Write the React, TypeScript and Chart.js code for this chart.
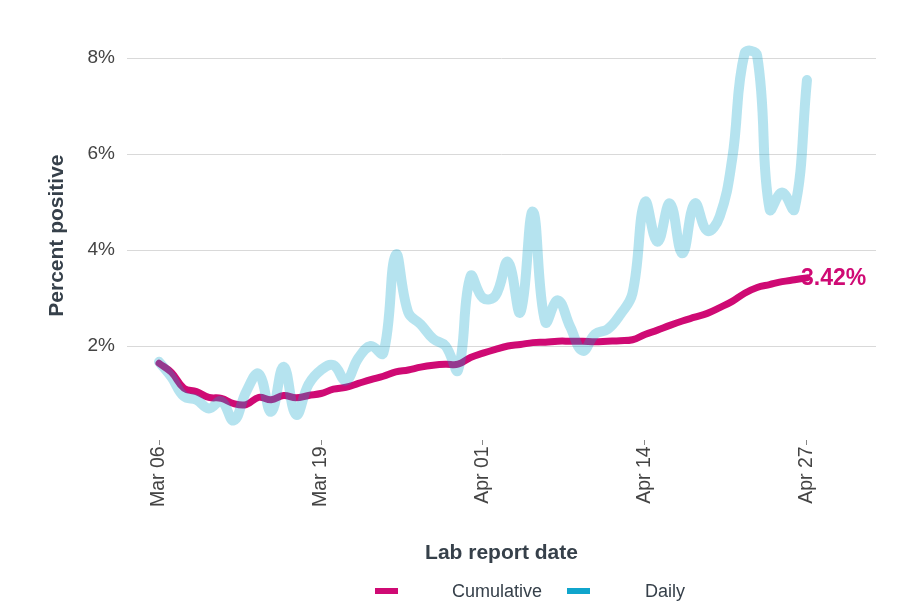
import { useEffect, useRef } from "react";
import { Chart, registerables } from "chart.js";

Chart.register(...registerables);

const dates = [
  "Mar 06", "Mar 07", "Mar 08", "Mar 09", "Mar 10", "Mar 11", "Mar 12", "Mar 13", "Mar 14", "Mar 15",
  "Mar 16", "Mar 17", "Mar 18", "Mar 19", "Mar 20", "Mar 21", "Mar 22", "Mar 23", "Mar 24", "Mar 25",
  "Mar 26", "Mar 27", "Mar 28", "Mar 29", "Mar 30", "Mar 31", "Apr 01", "Apr 02", "Apr 03", "Apr 04",
  "Apr 05", "Apr 06", "Apr 07", "Apr 08", "Apr 09", "Apr 10", "Apr 11", "Apr 12", "Apr 13", "Apr 14",
  "Apr 15", "Apr 16", "Apr 17", "Apr 18", "Apr 19", "Apr 20", "Apr 21", "Apr 22", "Apr 23", "Apr 24",
  "Apr 25", "Apr 26", "Apr 27",
];

const cumulative = [
  1.64, 1.45, 1.12, 1.05, 0.93, 0.91, 0.8, 0.78, 0.93, 0.88,
  0.97, 0.92, 0.97, 1.01, 1.1, 1.14, 1.22, 1.3, 1.37, 1.46,
  1.5, 1.56, 1.6, 1.62, 1.62, 1.76, 1.85, 1.93, 2.0, 2.03,
  2.07, 2.08, 2.1, 2.1, 2.1, 2.09, 2.1, 2.11, 2.13, 2.24,
  2.33, 2.43, 2.52, 2.6, 2.68, 2.8, 2.93, 3.1, 3.22, 3.28,
  3.34, 3.38, 3.42,
];

const daily = [
  1.67, 1.35, 0.95, 0.88, 0.7, 0.85, 0.45, 1.05, 1.42, 0.63,
  1.57, 0.57, 1.2, 1.5, 1.6, 1.28, 1.75, 2.0, 1.85, 3.9,
  2.7, 2.45, 2.15, 2.0, 1.5, 3.45, 3.0, 3.05, 3.75, 2.7,
  4.8, 2.5, 2.95, 2.4, 1.9, 2.25, 2.35, 2.65, 3.1, 5.0,
  4.17, 4.97, 3.93, 4.97, 4.4, 4.7, 5.9, 8.1, 8.05, 4.85,
  5.2, 4.85, 7.54,
];

const xTickLabels = ["Mar 06", "Mar 19", "Apr 01", "Apr 14", "Apr 27"];
const yTickValues = [2, 4, 6, 8];
const seriesNames = ["Cumulative", "Daily"];
const seriesColors = ["#CF0A74", "#10A5CC"];
const dailyLineColor = "rgba(16,165,204,0.31)";

const FONT = '"Liberation Sans", Arial, sans-serif';
const TEXT = "#36404a";

export default function App() {
  const ref = useRef<HTMLCanvasElement | null>(null);

  useEffect(() => {
    document.body.style.margin = "0";
    const canvas = ref.current;
    if (!canvas) return;
    const tickIdx = xTickLabels.map((l) => dates.indexOf(l));

    const endLabel = {
      id: "endLabel",
      afterDatasetsDraw(chart: any) {
        const meta = chart.getDatasetMeta(1);
        const pt = meta.data[meta.data.length - 1];
        if (!pt) return;
        const ctx = chart.ctx;
        ctx.save();
        ctx.font = `bold 23px ${FONT}`;
        ctx.fillStyle = seriesColors[0];
        ctx.textAlign = "left";
        ctx.textBaseline = "middle";
        ctx.fillText(cumulative[cumulative.length - 1].toFixed(2) + "%", pt.x - 6, pt.y + 1);
        ctx.restore();
      },
    };

    const chart = new Chart(canvas, {
      type: "line",
      data: {
        datasets: [
          {
            label: seriesNames[1],
            data: daily.map((v, i) => ({ x: i, y: v })),
            borderColor: dailyLineColor,
            borderWidth: 10,
            pointRadius: 0,
            tension: 0.42,
            borderCapStyle: "round",
            borderJoinStyle: "round",
            order: 0,
          },
          {
            label: seriesNames[0],
            data: cumulative.map((v, i) => ({ x: i, y: v })),
            borderColor: seriesColors[0],
            borderWidth: 7,
            pointRadius: 0,
            tension: 0.4,
            borderCapStyle: "round",
            borderJoinStyle: "round",
            order: 1,
          },
        ],
      },
      options: {
        animation: false,
        responsive: false,
        events: [],
        layout: { padding: { left: 0, right: 42, top: 38.8, bottom: 49.4 } },
        plugins: { legend: { display: false }, tooltip: { enabled: false } },
        scales: {
          x: {
            type: "linear",
            min: -2.57,
            max: 57.54,
            afterBuildTicks: (scale: any) => {
              scale.ticks = tickIdx.map((v) => ({ value: v }));
            },
            afterFit: (scale: any) => {
              scale.height = 133.2;
            },
            border: { display: false },
            grid: {
              display: true,
              drawOnChartArea: false,
              drawTicks: true,
              tickLength: 13,
              tickColor: "#888",
              tickWidth: 1,
              tickBorderDash: [5, 8],
              tickBorderDashOffset: 5,
            },
            ticks: {
              autoSkip: false,
              minRotation: 90,
              maxRotation: 90,
              padding: 1,
              color: "#444",
              font: { size: 19.5, family: FONT },
              callback: (v: any) => dates[Math.round(Number(v))] ?? "",
            },
            title: {
              display: true,
              text: "Lab report date",
              color: TEXT,
              font: { size: 21, weight: "bold", family: FONT },
              padding: { top: 0, bottom: 0 },
            },
          },
          y: {
            type: "linear",
            min: 0.2,
            max: 8.4,
            afterBuildTicks: (scale: any) => {
              scale.ticks = yTickValues.map((v) => ({ value: v }));
            },
            afterFit: (scale: any) => {
              scale.width = 127;
            },
            border: { display: false },
            grid: { color: "#d9d9d9", lineWidth: 1, drawTicks: false },
            ticks: {
              padding: 12,
              color: "#444",
              font: { size: 19, family: FONT },
              callback: (v: any) => v + "%",
            },
            title: {
              display: true,
              text: "Percent positive",
              color: TEXT,
              font: { size: 21, weight: "bold", family: FONT },
              padding: { top: 45, bottom: 0 },
            },
          },
        },
      },
      plugins: [endLabel],
    } as any);

    return () => chart.destroy();
  }, []);

  const legendItems = [
    { name: seriesNames[0], color: seriesColors[0] },
    { name: seriesNames[1], color: seriesColors[1] },
  ];

  return (
    <div style={{ position: "relative", width: 918, height: 615 }}>
      <canvas ref={ref} width={918} height={615} style={{ display: "block" }} />
      <div
        style={{
          position: "absolute",
          left: 375,
          top: 580,
          display: "flex",
          alignItems: "center",
          fontFamily: FONT,
          fontSize: 18,
          color: TEXT,
          height: 22,
        }}
      >
        {legendItems.map((it, i) => (
          <div key={it.name} style={{ display: "flex", alignItems: "center", marginRight: i === 0 ? 25 : 0 }}>
            <span style={{ display: "inline-block", width: 23, height: 6, background: it.color }} />
            <span style={{ marginLeft: i === 0 ? 54 : 55 }}>{it.name}</span>
          </div>
        ))}
      </div>
    </div>
  );
}
